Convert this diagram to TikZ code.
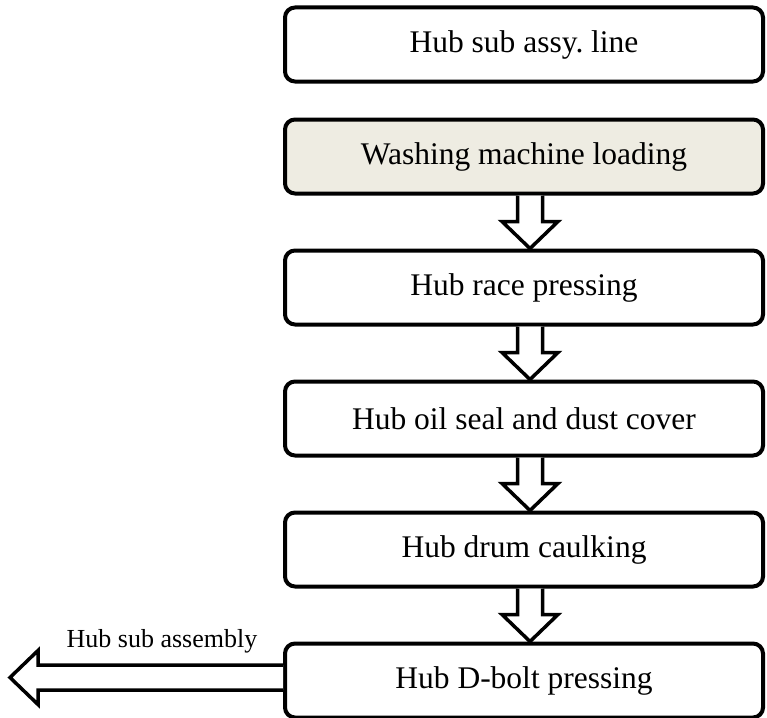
\documentclass[tikz,border=0pt]{standalone}
\usepackage{fontspec}
\setmainfont{Liberation Serif}
\usetikzlibrary{positioning}
\usetikzlibrary{calc}
\definecolor{washfill}{RGB}{238,236,226}
\tikzset{
    x=1pt, y=1pt,
    node distance=53pt,
    stepbox/.style={
        draw,
        line width=4pt,
        rounded corners=10pt,
        minimum width=478pt,
        minimum height=74pt,
        font=\fontsize{31.5}{36}\selectfont
    },
    blockarrow/.style={
        draw,
        fill=white,
        line width=3.5pt,
        line join=miter
    }
}
% hollow arrow from the bottom of #1 to the top of #2
\newcommand{\hollowdown}[2]{%
    \draw[blockarrow] let \p1=($(#1.south)+(6,0)$), \p2=($(#2.north)+(6,0)$) in
        (\x1-12.5,\y1) -- (\x1-12.5,\y2+27) -- (\x1-28,\y2+27) -- (\x2,\y2)
        -- (\x1+28,\y2+27) -- (\x1+12.5,\y2+27) -- (\x1+12.5,\y1);
}

\begin{document}
\begin{tikzpicture}
                \useasboundingbox (0,0) rectangle (767,-717);
                \node[stepbox] (line) at (524,-44.5) {Hub sub assy.\ line};
                \node[stepbox, fill=washfill, below=34pt of line] (wash) {Washing machine loading};
                \node[stepbox, below=of wash] (race) {Hub race pressing};
                \node[stepbox, below=of race] (seal) {Hub oil seal and dust cover};
                \node[stepbox, below=of seal] (caulk) {Hub drum caulking};
                \node[stepbox, below=of caulk] (bolt) {Hub D-bolt pressing};
                \hollowdown{wash}{race}
                \hollowdown{race}{seal}
                \hollowdown{seal}{caulk}
                \hollowdown{caulk}{bolt}
                % output to the left
                \coordinate (out) at (10,-677.5);
                \draw[blockarrow] let \p1=(bolt.west), \p2=(out) in
                    (\x1,\y2+12.5) -- (\x2+28,\y2+12.5) -- (\x2+28,\y2+27) -- (\x2,\y2)
                    -- (\x2+28,\y2-27) -- (\x2+28,\y2-12.5) -- (\x1,\y2-12.5);
                \node[font=\fontsize{26}{30}\selectfont, above=21pt of out, xshift=152pt] (outlabel) {Hub sub assembly};
            \end{tikzpicture}
\end{document}
